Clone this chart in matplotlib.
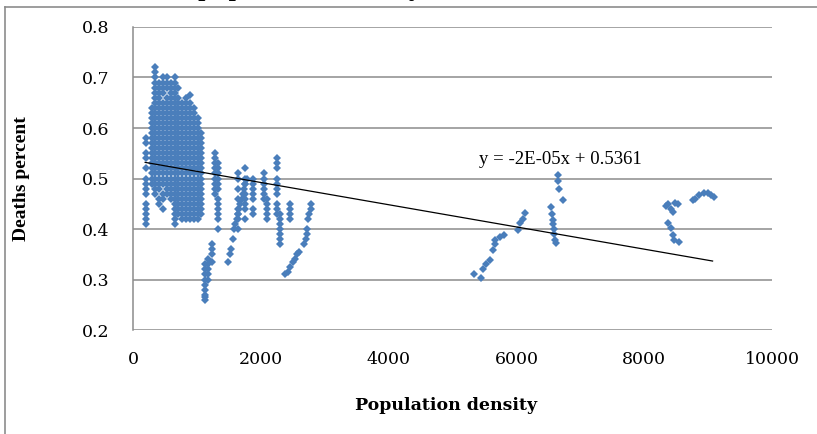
"""
deaths percent vs. population density scatter with linear trendline
"""
import matplotlib
matplotlib.use("Agg")
import matplotlib.pyplot as plt
from matplotlib.lines import Line2D

# dense block of low-density regions, stored as (x, [y values]) columns
blob_columns = [
    (200, [0.58, 0.57, 0.55, 0.54, 0.52, 0.50, 0.49, 0.48, 0.47, 0.45, 0.44, 0.43, 0.42, 0.41]),
    (300, [0.64, 0.63, 0.62, 0.61, 0.60, 0.59, 0.58, 0.57, 0.56, 0.55, 0.54, 0.53, 0.52, 0.51, 0.50, 0.49]),
    (350, [0.72, 0.71, 0.70, 0.69, 0.68, 0.67, 0.66, 0.65, 0.64, 0.63, 0.62, 0.61, 0.60, 0.59, 0.58,
           0.57, 0.56, 0.55, 0.54, 0.53, 0.52, 0.51, 0.50, 0.49, 0.48, 0.47]),
    (410, [0.69, 0.68, 0.67, 0.66, 0.65, 0.64, 0.63, 0.62, 0.61, 0.60, 0.59, 0.58, 0.57, 0.56, 0.55,
           0.54, 0.53, 0.52, 0.51, 0.50, 0.49, 0.48, 0.46, 0.45]),
    (470, [0.70, 0.69, 0.68, 0.67, 0.65, 0.64, 0.63, 0.62, 0.61, 0.60, 0.59, 0.58, 0.57, 0.56, 0.55,
           0.54, 0.53, 0.52, 0.51, 0.50, 0.49, 0.47, 0.46, 0.44]),
    (530, [0.70, 0.69, 0.68, 0.66, 0.65, 0.64, 0.63, 0.62, 0.61, 0.60, 0.59, 0.58, 0.57, 0.56, 0.55,
           0.54, 0.53, 0.52, 0.51, 0.50, 0.49, 0.48, 0.47]),
    (590, [0.69, 0.68, 0.67, 0.66, 0.65, 0.64, 0.63, 0.62, 0.61, 0.60, 0.59, 0.58, 0.57, 0.56, 0.55,
           0.54, 0.53, 0.52, 0.51, 0.50, 0.49, 0.48, 0.47, 0.46]),
    (650, [0.70, 0.69, 0.68, 0.67, 0.66, 0.65, 0.64, 0.63, 0.62, 0.61, 0.60, 0.59, 0.58, 0.57, 0.56,
           0.55, 0.54, 0.53, 0.52, 0.51, 0.50, 0.49, 0.48, 0.47, 0.46, 0.45, 0.44, 0.43, 0.42, 0.41]),
    (710, [0.68, 0.66, 0.65, 0.64, 0.63, 0.62, 0.61, 0.60, 0.59, 0.58, 0.57, 0.56, 0.55, 0.54, 0.53,
           0.52, 0.51, 0.50, 0.49, 0.48, 0.47, 0.46, 0.45, 0.44, 0.43]),
    (770, [0.65, 0.64, 0.63, 0.62, 0.61, 0.60, 0.59, 0.58, 0.57, 0.56, 0.55, 0.54, 0.53, 0.52, 0.51,
           0.50, 0.49, 0.48, 0.47, 0.46, 0.45, 0.44, 0.43, 0.42]),
    (830, [0.66, 0.65, 0.64, 0.63, 0.62, 0.61, 0.60, 0.59, 0.58, 0.57, 0.56, 0.55, 0.54, 0.53, 0.52,
           0.51, 0.50, 0.49, 0.48, 0.47, 0.46, 0.45, 0.44, 0.43, 0.42]),
    (890, [0.665, 0.65, 0.64, 0.63, 0.62, 0.61, 0.60, 0.59, 0.58, 0.57, 0.56, 0.55, 0.54, 0.53, 0.52,
           0.51, 0.50, 0.49, 0.48, 0.47, 0.46, 0.45, 0.44, 0.43, 0.42]),
    (950, [0.64, 0.63, 0.62, 0.61, 0.60, 0.59, 0.58, 0.57, 0.56, 0.55, 0.54, 0.53, 0.52, 0.51, 0.50,
           0.49, 0.48, 0.47, 0.46, 0.45, 0.44, 0.43, 0.42]),
    (1010, [0.62, 0.61, 0.60, 0.59, 0.58, 0.57, 0.56, 0.55, 0.54, 0.53, 0.52, 0.51, 0.50, 0.49, 0.48,
            0.47, 0.46, 0.45, 0.44, 0.43, 0.42]),
    (1070, [0.59, 0.58, 0.57, 0.56, 0.55, 0.54, 0.53, 0.52, 0.51, 0.50, 0.49, 0.48, 0.47, 0.46, 0.45,
            0.44, 0.43]),
]

# middle-density columns
mid_columns = [
    (1130, [0.26, 0.265, 0.27, 0.28, 0.29, 0.30, 0.31, 0.32, 0.33]),
    (1180, [0.30, 0.31, 0.32, 0.33, 0.34]),
    (1240, [0.335, 0.35, 0.36, 0.37]),
    (1280, [0.55, 0.54, 0.53, 0.52, 0.51, 0.50, 0.49, 0.48, 0.47]),
    (1330, [0.53, 0.52, 0.51, 0.50, 0.49, 0.48, 0.46, 0.45, 0.44, 0.43, 0.42, 0.40]),
    (1650, [0.40, 0.42, 0.43, 0.44, 0.46, 0.48, 0.50, 0.51]),
    (1750, [0.42, 0.44, 0.45, 0.46, 0.47, 0.49, 0.50, 0.52]),
    (1870, [0.43, 0.44, 0.46, 0.47, 0.48, 0.49, 0.50]),
    (2050, [0.46, 0.47, 0.48, 0.49, 0.50, 0.51]),
    (2100, [0.42, 0.43, 0.44, 0.45, 0.46]),
    (2250, [0.54, 0.53, 0.52, 0.50, 0.49, 0.48, 0.47, 0.45, 0.44, 0.43]),
    (2300, [0.43, 0.42, 0.41, 0.40, 0.39, 0.38, 0.37]),
    (2450, [0.45, 0.44, 0.43, 0.42]),
]

# sloping streaks read point by point
streak_x = [1490, 1510, 1530, 1560, 1580, 1600, 1620, 1640, 1660, 1680, 1700, 1720, 1740, 1760, 1780,
            2380, 2420, 2460, 2500, 2530, 2560, 2600,
            2680, 2700, 2720, 2730, 2740, 2760, 2780, 2790]
streak_y = [0.335, 0.35, 0.36, 0.38, 0.40, 0.41, 0.42, 0.43, 0.44, 0.45, 0.46, 0.47, 0.48, 0.49, 0.50,
            0.31, 0.315, 0.325, 0.335, 0.34, 0.35, 0.355,
            0.37, 0.38, 0.39, 0.40, 0.42, 0.43, 0.44, 0.45]

# high-density regions
high_x = [5330, 5440, 5470, 5530, 5590, 5640, 5660, 5670, 5750, 5800, 6020, 6060, 6100, 6140,
          6534, 6550, 6566, 6570, 6580, 6590, 6600, 6613, 6644, 6650, 6660, 6722,
          8336, 8370, 8420, 8450, 8480, 8524, 8368, 8415, 8446, 8462, 8540,
          8760, 8800, 8854, 8932, 8995, 9040, 9089]
high_y = [0.31, 0.303, 0.32, 0.33, 0.339, 0.358, 0.37, 0.378, 0.384, 0.388, 0.398, 0.412, 0.42, 0.432,
          0.444, 0.43, 0.418, 0.41, 0.40, 0.39, 0.378, 0.372, 0.507, 0.495, 0.48, 0.457,
          0.445, 0.45, 0.44, 0.434, 0.452, 0.45, 0.412, 0.402, 0.388, 0.378, 0.374,
          0.457, 0.46, 0.467, 0.471, 0.471, 0.468, 0.463]

trend_slope = -2.2e-05
trend_intercept = 0.5361
trend_label = "y = -2E-05x + 0.5361"

xs, ys = [], []
for x, col in blob_columns + mid_columns:
    xs += [x] * len(col)
    ys += col
xs += streak_x + high_x
ys += streak_y + high_y

plt.rcParams["font.family"] = ["Liberation Serif", "DejaVu Serif"]
wide = ["DejaVu Serif"]
fig = plt.figure(figsize=(8.17, 4.34), dpi=100)
ax = fig.add_axes([0.1628, 0.2396, 0.7822, 0.6982])

ax.plot(xs, ys, "D", color="#4A7EBB", markersize=4.5, markeredgewidth=0, zorder=3)
tx = [min(xs) - 10, max(high_x) - 20]
ax.plot(tx, [trend_intercept + trend_slope * t for t in tx], "-", color="black", lw=0.9, zorder=4)
ax.text(6690, 0.537, trend_label, ha="center", va="center", fontsize=13.5)

ax.set_xlim(0, 10000)
ax.set_ylim(0.2, 0.8)
ax.set_xticks([0, 2000, 4000, 6000, 8000, 10000])
ax.set_yticks([0.2, 0.3, 0.4, 0.5, 0.6, 0.7, 0.8])
ax.set_yticklabels(["0.2", "0.3", "0.4", "0.5", "0.6", "0.7", "0.8"])
ax.tick_params(axis="both", length=0)
ax.tick_params(axis="y", pad=17)
ax.tick_params(axis="x", pad=15)
for lab in ax.get_xticklabels() + ax.get_yticklabels():
    lab.set_family(wide)
    lab.set_fontsize(12.5)
ax.grid(True, axis="y", color="#8C8C8C", lw=1.1)
ax.set_axisbelow(True)
for side in ["top", "right", "bottom"]:
    ax.spines[side].set_visible(False)
ax.spines["left"].set_color("#8C8C8C")
ax.spines["left"].set_linewidth(1.1)

ax.set_xlabel("Population density", fontsize=12.5, fontweight="bold", family=wide)
ax.xaxis.set_label_coords(0.49, -0.22)
ax.set_ylabel("Deaths percent", fontsize=14, fontweight="bold")
ax.yaxis.set_label_coords(-0.161, 0.5)

# frame of the pasted figure, and the cut-off caption above it
fig.add_artist(Line2D([5 / 817, 5 / 817], [0, 1 - 7 / 434], color="#8C8C8C", lw=1.2))
fig.add_artist(Line2D([5 / 817, 1], [1 - 7 / 434, 1 - 7 / 434], color="#8C8C8C", lw=1.2))
fig.text(198 / 817, 1 + 6 / 434, "population density", fontsize=22, ha="left", va="baseline")

fig.savefig("out.png", dpi=100)
